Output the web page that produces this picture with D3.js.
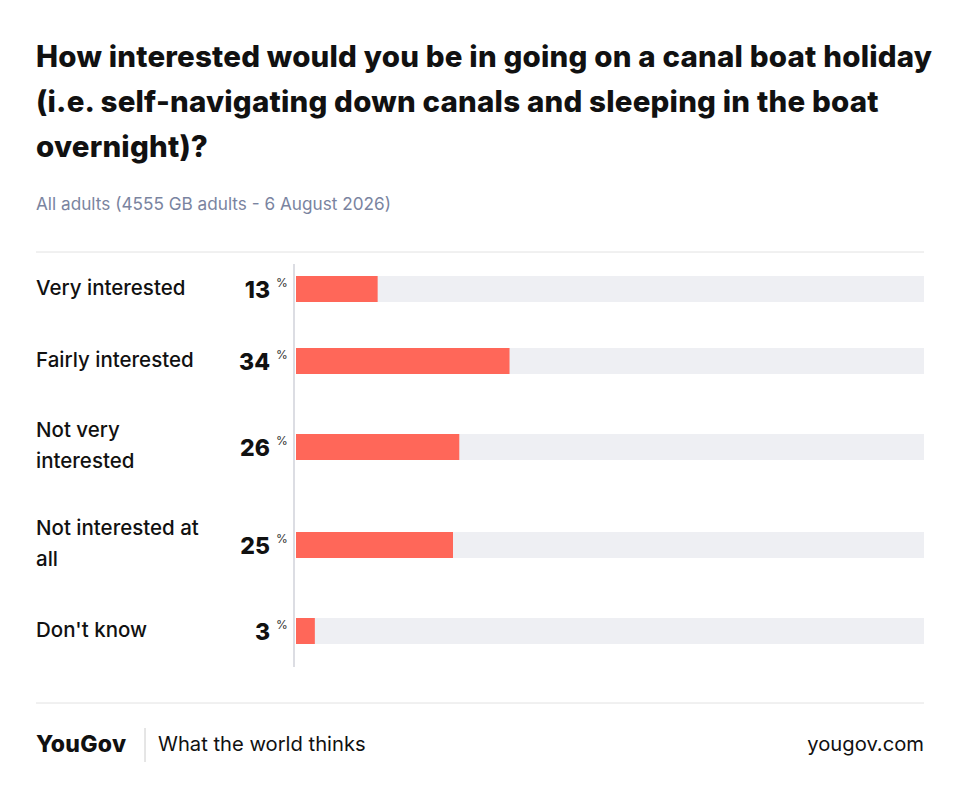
<!DOCTYPE html>
<html><head><meta charset="utf-8">
<script src="https://cdn.jsdelivr.net/npm/d3@7"></script>
<style>body{margin:0;background:#fff;font-family:Inter,"Open Sans",sans-serif}</style>
</head><body><svg id="c" width="960" height="799"></svg>
<script>
const categories=[["Very interested"],["Fairly interested"],["Not very","interested"],["Not interested at","all"],["Don't know"]];
const values=[13,34,26,25,3];
const rowCenters=[289,361,447,545,631];
const svg=d3.select("#c");
const title=["How interested would you be in going on a canal boat holiday","(i.e. self-navigating down canals and sleeping in the boat","overnight)?"];
title.forEach((t,i)=>svg.append("text").attr("x",36).attr("y",67+i*45).attr("font-size",29.5).attr("font-weight",800).attr("fill","#111").attr("letter-spacing",0.2).text(t));
svg.append("text").attr("x",36).attr("y",210).attr("font-size",17.2).attr("fill","#7a84a0").text("All adults (4555 GB adults - 6 August 2026)");
svg.append("line").attr("x1",36).attr("x2",924).attr("y1",252).attr("y2",252).attr("stroke","#e2e2e2");
svg.append("line").attr("x1",36).attr("x2",924).attr("y1",703).attr("y2",703).attr("stroke","#e2e2e2");
const x=d3.scaleLinear().domain([0,100]).range([296,924]);
svg.append("line").attr("x1",294).attr("x2",294).attr("y1",264).attr("y2",667).attr("stroke","#dcdde3").attr("stroke-width",2);
const g=svg.selectAll("g.r").data(values).join("g");
g.append("rect").attr("x",x(0)).attr("width",x(100)-x(0)).attr("y",(d,i)=>rowCenters[i]-13).attr("height",26).attr("fill","#eeeff3");
g.append("rect").attr("x",x(0)).attr("width",d=>x(d)-x(0)).attr("y",(d,i)=>rowCenters[i]-13).attr("height",26).attr("fill","#ff6759");
g.append("text").attr("x",270).attr("y",(d,i)=>rowCenters[i]+9).attr("text-anchor","end").attr("font-size",23).attr("font-weight",800).attr("fill","#111").text(d=>d);
g.append("text").attr("x",276).attr("y",(d,i)=>rowCenters[i]-2).attr("font-size",12).attr("fill","#333").text("%");
g.each(function(d,i){const L=categories[i];const y0=rowCenters[i]+6-(L.length-1)*16;
 L.forEach((t,j)=>d3.select(this).append("text").attr("x",36).attr("y",y0+j*31).attr("font-size",20.5).attr("font-weight",500).attr("fill","#111").text(t));});
svg.append("text").attr("x",36).attr("y",752).attr("font-size",23).attr("font-weight",800).attr("fill","#111").attr("letter-spacing",0.3).text("YouGov");
svg.append("line").attr("x1",145).attr("x2",145).attr("y1",728).attr("y2",762).attr("stroke","#ccc");
svg.append("text").attr("x",158).attr("y",751).attr("font-size",20.2).attr("fill","#111").text("What the world thinks");
svg.append("text").attr("x",924).attr("y",751).attr("text-anchor","end").attr("font-size",20.2).attr("fill","#111").text("yougov.com");
</script></body></html>
